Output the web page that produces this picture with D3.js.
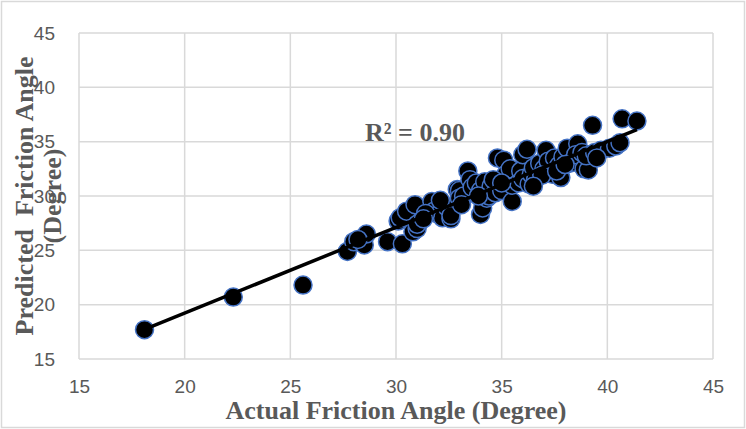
<!DOCTYPE html>
<html>
<head>
<meta charset="utf-8">
<script src="https://cdn.jsdelivr.net/npm/d3@7"></script>
<style>
  html, body { margin: 0; padding: 0; background: #fff; }
  svg { display: block; }
</style>
</head>
<body>
<div id="chart"></div>
<script>
// Actual vs predicted friction angle (degree)
let actual = [
    18.1, 22.3, 25.6, 27.7, 28.0, 28.5, 28.6, 28.2, 29.6, 30.3,
    30.1, 30.2, 30.5, 30.9, 30.8, 31.0, 31.0, 31.7, 31.8, 32.0,
    32.2, 32.6, 32.4, 32.6, 32.9, 33.0, 33.0, 33.4, 33.5, 33.2,
    33.6, 33.8, 34.0, 34.1, 34.0, 34.3, 34.4, 34.2, 34.5, 34.8,
    35.1, 34.7, 35.0, 35.2, 35.2, 35.5, 35.5, 35.4, 35.8, 35.9,
    36.0, 36.2, 36.0, 36.3, 36.4, 36.5, 36.6, 36.8, 37.1, 37.0,
    37.2, 37.4, 37.5, 37.8, 37.7, 37.9, 38.1, 38.2, 38.4, 38.6,
    38.5, 38.8, 38.9, 39.1, 39.0, 39.3, 39.4, 39.7, 40.1, 40.4,
    40.6, 40.7, 41.4, 34.6, 33.9, 31.4, 32.1, 36.9, 36.5, 35.0,
    37.6, 38.0, 39.5, 33.1, 31.3
];
let predicted = [
    17.7, 20.7, 21.8, 24.9, 25.8, 25.5, 26.5, 26.0, 25.8, 25.6,
    27.7, 28.0, 28.6, 29.2, 26.7, 27.0, 27.4, 29.5, 28.6, 28.3,
    28.0, 27.9, 29.0, 28.2, 30.6, 30.5, 29.8, 32.3, 31.5, 30.0,
    30.8, 31.2, 28.3, 28.9, 30.5, 29.8, 30.0, 31.3, 30.9, 33.5,
    33.3, 30.3, 30.5, 31.8, 32.0, 29.5, 31.0, 32.5, 31.2, 32.3,
    33.8, 34.3, 31.6, 31.1, 32.0, 32.6, 31.5, 33.0, 34.2, 32.5,
    33.2, 32.0, 33.5, 31.7, 32.8, 33.6, 34.4, 33.0, 33.1, 34.8,
    33.8, 34.0, 32.5, 32.4, 33.7, 36.5, 34.0, 34.2, 34.4, 34.6,
    34.9, 37.1, 36.9, 31.5, 30.0, 28.4, 29.6, 31.9, 30.9, 31.2,
    32.3, 32.9, 33.5, 29.2, 27.9
];
let xTicks = [15, 20, 25, 30, 35, 40, 45];
let yTicks = [15, 20, 25, 30, 35, 40, 45];
let rSquaredLabel = 'R² = 0.90';

let points = actual.map((a, i) => ({ x: a, y: predicted[i] }));

// Size of the page
let svgWidth = 746,
    svgHeight = 429;

let svg = d3.select('#chart')
    .append('svg')
    .attr('width', svgWidth)
    .attr('height', svgHeight);

let textColor = '#595959',
    gridColor = '#d9d9d9';

// outer chart border
svg.append('rect')
    .attr('x', 1.5).attr('y', 1.5)
    .attr('width', svgWidth - 3).attr('height', svgHeight - 3)
    .attr('fill', 'white')
    .attr('stroke', gridColor)
    .attr('stroke-width', 1.5);

let xScale = d3.scaleLinear().domain([15, 45]).range([79, 713]);
let yScale = d3.scaleLinear().domain([15, 45]).range([359, 33]);

// gridlines
svg.append('g')
    .selectAll('line')
    .data(xTicks)
    .enter()
    .append('line')
    .attr('x1', d => xScale(d)).attr('x2', d => xScale(d))
    .attr('y1', yScale(15)).attr('y2', yScale(45))
    .attr('stroke', gridColor)
    .attr('stroke-width', 1.5);

svg.append('g')
    .selectAll('line')
    .data(yTicks)
    .enter()
    .append('line')
    .attr('x1', xScale(15)).attr('x2', xScale(45))
    .attr('y1', d => yScale(d)).attr('y2', d => yScale(d))
    .attr('stroke', gridColor)
    .attr('stroke-width', 1.5);

// tick labels
let xAxis = svg.append('g')
    .attr('transform', `translate(0, ${yScale(15)})`)
    .call(d3.axisBottom(xScale).tickValues(xTicks).tickSize(0).tickPadding(21));
let yAxis = svg.append('g')
    .attr('transform', `translate(${xScale(15)}, 0)`)
    .call(d3.axisLeft(yScale).tickValues(yTicks).tickSize(0).tickPadding(24));

[xAxis, yAxis].forEach(ax => {
    ax.select('.domain').remove();
    ax.selectAll('text')
        .attr('fill', textColor)
        .style('font-family', '"Liberation Sans", Arial, sans-serif')
        .style('font-size', '19px');
});

// Points
svg.append('g')
    .selectAll('circle')
    .data(points)
    .enter()
    .append('circle')
    .attr('cx', d => xScale(d.x))
    .attr('cy', d => yScale(d.y))
    .attr('r', 9)
    .attr('fill', 'black')
    .attr('stroke', '#4472c4')
    .attr('stroke-width', 1.5);

// Linear trendline, least squares over the points
let meanX = d3.mean(points, d => d.x),
    meanY = d3.mean(points, d => d.y);
let slope = d3.sum(points, d => (d.x - meanX) * (d.y - meanY)) /
    d3.sum(points, d => (d.x - meanX) * (d.x - meanX));
let intercept = meanY - slope * meanX;
let [minX, maxX] = d3.extent(points, d => d.x);

svg.append('line')
    .attr('x1', xScale(minX)).attr('y1', yScale(intercept + slope * minX))
    .attr('x2', xScale(maxX)).attr('y2', yScale(intercept + slope * maxX))
    .attr('stroke', 'black')
    .attr('stroke-width', 3.5);

let serif = '"Liberation Serif", "Times New Roman", serif';

svg.append('text')
    .attr('x', 365).attr('y', 141)
    .attr('fill', textColor)
    .style('font-family', serif)
    .style('font-weight', 'bold')
    .style('font-size', '26px')
    .text(rSquaredLabel);

// axis titles
svg.append('text')
    .attr('x', 396).attr('y', 419)
    .attr('text-anchor', 'middle')
    .attr('fill', textColor)
    .style('font-family', serif)
    .style('font-weight', 'bold')
    .style('font-size', '26px')
    .text('Actual Friction Angle (Degree)');

let yTitle = svg.append('text')
    .attr('transform', 'translate(33, 196) rotate(-90)')
    .attr('text-anchor', 'middle')
    .attr('fill', textColor)
    .style('font-family', serif)
    .style('font-weight', 'bold')
    .style('font-size', '26px');
yTitle.append('tspan').attr('x', 0).attr('y', 0).style('white-space', 'pre').text('Predicted\u00a0 Friction Angle');
yTitle.append('tspan').attr('x', 0).attr('y', 28).text('(Degree)');
</script>
</body>
</html>
